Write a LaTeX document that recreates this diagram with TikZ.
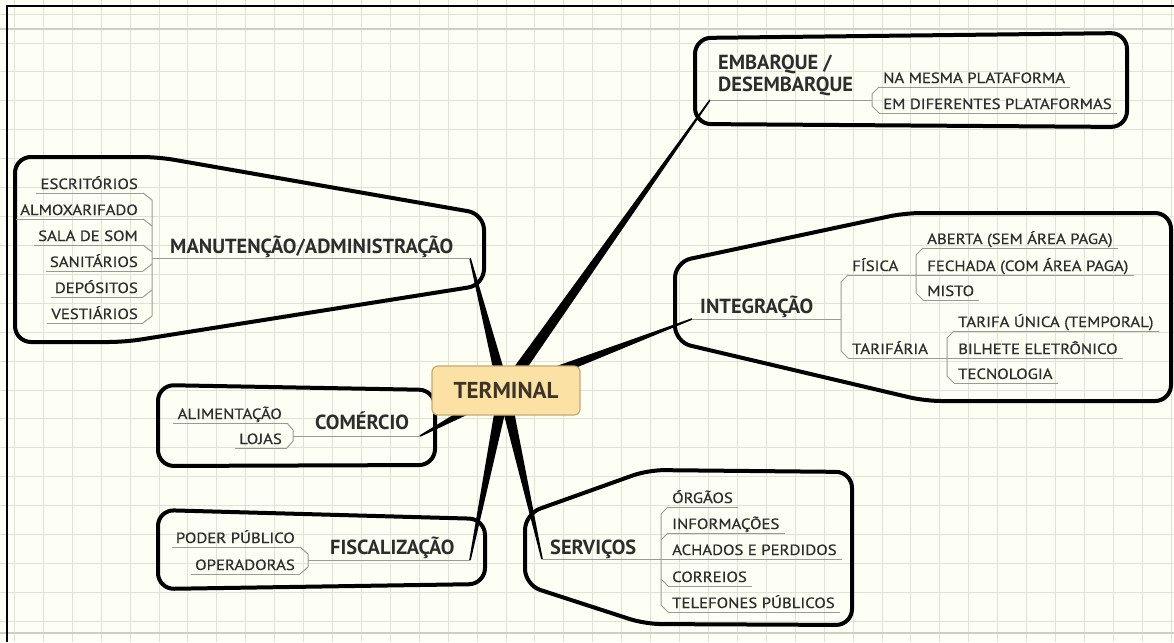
\documentclass[tikz,border=0pt]{standalone}
\usepackage{fontspec}
\setmainfont{PT Sans}
\newfontfamily\subfnt[FakeStretch=1.13,FakeBold=0.6]{PT Sans}
\usetikzlibrary{calc}
\definecolor{bg}{RGB}{253,254,244}
\definecolor{gridc}{RGB}{224,226,215}
\definecolor{griddk}{RGB}{205,207,198}
\definecolor{txt}{RGB}{45,45,45}
\definecolor{ulc}{RGB}{155,155,148}
\definecolor{termfill}{RGB}{251,226,164}
\definecolor{termdraw}{RGB}{200,168,112}
\definecolor{termtxt}{RGB}{60,52,38}
\tikzset{
  gridline/.style={draw=gridc, line width=1},
  griddark/.style={draw=griddk, line width=1.2},
  bubble/.style={draw=black, line width=4, rounded corners=16, line join=round},
  subtext/.style={font=\subfnt\fontsize{14.8}{17}\selectfont, text=txt, inner sep=0},
  maintext/.style={font=\fontsize{20.4}{24}\selectfont\bfseries, text=txt, inner sep=0, anchor=base west},
  ul/.style={draw=ulc, line width=1},
  bracket/.style={draw=ulc, line width=1, line join=round},
  term/.style={draw=termdraw, fill=termfill, line width=1.2, rounded corners=6,
    minimum width=148, minimum height=49, inner sep=0,
    font=\fontsize{23}{26}\selectfont\bfseries, text=termtxt},
}
\newcommand\LItem[4]{\node[subtext, anchor=base east] (#1) at (#2,#3) {#4};
  \draw[ul] ($(#1.base west)+(-4,4)$) coordinate (#1-s) -- ($(#1.base east)+(5,4)$) coordinate (#1-e);}
\newcommand\RItem[4]{\node[subtext, anchor=base west] (#1) at (#2,#3) {#4};
  \draw[ul] ($(#1.base west)+(-4,4)$) coordinate (#1-s) -- ($(#1.base east)+(5,4)$) coordinate (#1-e);}
\newcommand\spoke[2]{\fill[black] ($(#1)!6pt!90:(#2)$) -- ($(#2)!0.8pt!-90:(#1)$) -- ($(#2)!0.8pt!90:(#1)$) -- ($(#1)!6pt!-90:(#2)$) -- cycle;}
\begin{document}
\begin{tikzpicture}[x=1pt,y=-1pt]
\useasboundingbox (0,0) rectangle (1174,642);
\fill[bg] (0,0) rectangle (1174,642);
\foreach \i in {0,...,40} \draw[gridline] ({14.4+28.92*\i},0) -- ({14.4+28.92*\i},642);
\foreach \j in {0,...,21} \draw[gridline] (0,{14.1+28.92*\j}) -- (1174,{14.1+28.92*\j});
\draw[griddark] (0,29) -- (1174,29);
\draw[griddark] (0,633) -- (1174,633);
\draw[line width=2] (7,642) -- (7,6) -- (1174,6);

% bubbles
\draw[bubble] (15,157) -- (158,157) -- (484,214) -- (484,285) -- (125,342) -- (15,342) -- cycle;
\draw[bubble] (695,38) -- (1127,33) -- (1127,127) -- (695,124) -- cycle;
\draw[bubble] (675,262) -- (905,213) -- (1171,213) -- (1171,401) -- (925,401) -- (675,342) -- cycle;
\draw[bubble] (158,385) -- (435,390) -- (435,465) -- (158,466) -- cycle;
\draw[bubble] (158,510) -- (485,519) -- (485,584) -- (158,589) -- cycle;
\draw[bubble] (525,514) -- (648,470) -- (852,472) -- (852,625) -- (645,624) -- (525,585) -- cycle;

% spokes
\coordinate (C) at (504,391);
\coordinate (man-end) at (470,258);
\coordinate (emb-end) at (710,100);
\coordinate (int-end) at (692,319);
\coordinate (com-end) at (420,436);
\coordinate (fz-end) at (470,560);
\coordinate (ser-end) at (542,559);
\spoke{C}{man-end}
\spoke{C}{emb-end}
\spoke{C}{int-end}
\spoke{C}{com-end}
\spoke{C}{fz-end}
\spoke{C}{ser-end}

% MANUTENCAO
\LItem{esc}{138}{189}{ESCRITÓRIOS}
\LItem{alm}{138}{215}{ALMOXARIFADO}
\LItem{sal}{138}{241}{SALA DE SOM}
\LItem{san}{138}{267}{SANITÁRIOS}
\LItem{dep}{138}{293}{DEPÓSITOS}
\LItem{ves}{138}{319}{VESTIÁRIOS}
\coordinate (man-bar) at (152,258);
\draw[bracket] (esc-e) -- ++(9,7) -- (152,316) -- (ves-e);
\draw[bracket] (alm-e) -- ++(9,7) (sal-e) -- ++(9,7) (san-e) -- ++(9,-7) (dep-e) -- ++(9,-7);
\node[maintext] (man) at (170,253) {MANUTENÇÃO/ADMINISTRAÇÃO};
\draw[ul] (man-bar) -- (man-end);

% EMBARQUE
\node[maintext] (emb1) at (718,70) {EMBARQUE /};
\node[maintext] (emb2) at (718,91) {DESEMBARQUE};
\coordinate (emb-bar) at (872,100);
\draw[ul] (emb-end) -- (emb-bar);
\RItem{nam}{883}{83}{NA MESMA PLATAFORMA}
\RItem{emd}{883}{109}{EM DIFERENTES PLATAFORMAS}
\draw[bracket] (nam-s) -- ++(-7,7) -- (872,106) -- (emd-s);

% INTEGRACAO
\node[maintext] (int) at (700,313) {INTEGRAÇÃO};
\coordinate (int-bar) at (841,319);
\draw[ul] (int-end) -- (int-bar);
\RItem{fis}{852}{271}{FÍSICA}
\RItem{tar}{852}{354}{TARIFÁRIA}
\draw[bracket] (fis-s) -- ++(-7,7) -- (841,351) -- (tar-s);
\RItem{abe}{927}{244}{ABERTA (SEM ÁREA PAGA)}
\RItem{fec}{927}{271}{FECHADA (COM ÁREA PAGA)}
\RItem{mis}{927}{296}{MISTO}
\draw[ul] (fis-e) -- (fec-s);
\draw[bracket] (abe-s) -- ++(-7,7) -- (916,293) -- (mis-s);
\RItem{tun}{958}{327}{TARIFA ÚNICA (TEMPORAL)}
\RItem{bil}{958}{354}{BILHETE ELETRÔNICO}
\RItem{tec}{958}{379}{TECNOLOGIA}
\draw[ul] (tar-e) -- (bil-s);
\draw[bracket] (tun-s) -- ++(-7,7) -- (947,376) -- (tec-s);

% COMERCIO
\LItem{ali}{282}{419}{ALIMENTAÇÃO}
\LItem{loj}{282}{444}{LOJAS}
\draw[bracket] (ali-e) -- ++(6,7) -- (293,441) -- (loj-e);
\node[maintext] (com) at (315,429) {COMÉRCIO};
\coordinate (com-bar) at (293,436);
\draw[ul] (com-bar) -- (com-end);

% FISCALIZACAO
\LItem{pod}{295}{543}{PODER PÚBLICO}
\LItem{ope}{295}{570}{OPERADORAS}
\draw[bracket] (pod-e) -- ++(8,7) -- (308,567) -- (ope-e);
\node[maintext] (fisc) at (330,554) {FISCALIZAÇÃO};
\coordinate (fz-bar) at (308,560);
\draw[ul] (fz-bar) -- (fz-end);

% SERVICOS
\node[maintext] (ser) at (550,554) {SERVIÇOS};
\RItem{org}{672}{503}{ÓRGÃOS}
\RItem{inf}{672}{529}{INFORMAÇÕES}
\RItem{ach}{672}{555}{ACHADOS E PERDIDOS}
\RItem{cor}{672}{582}{CORREIOS}
\RItem{tel}{672}{608}{TELEFONES PÚBLICOS}
\draw[ul] (ser-end) -- (ach-s);
\draw[bracket] (org-s) -- ++(-7,7) -- (661,605) -- (tel-s);
\draw[bracket] (inf-s) -- ++(-7,7) (cor-s) -- ++(-7,-7);

% TERMINAL
\node[term] (term) at (506,390.5) {TERMINAL};
\end{tikzpicture}
\end{document}
